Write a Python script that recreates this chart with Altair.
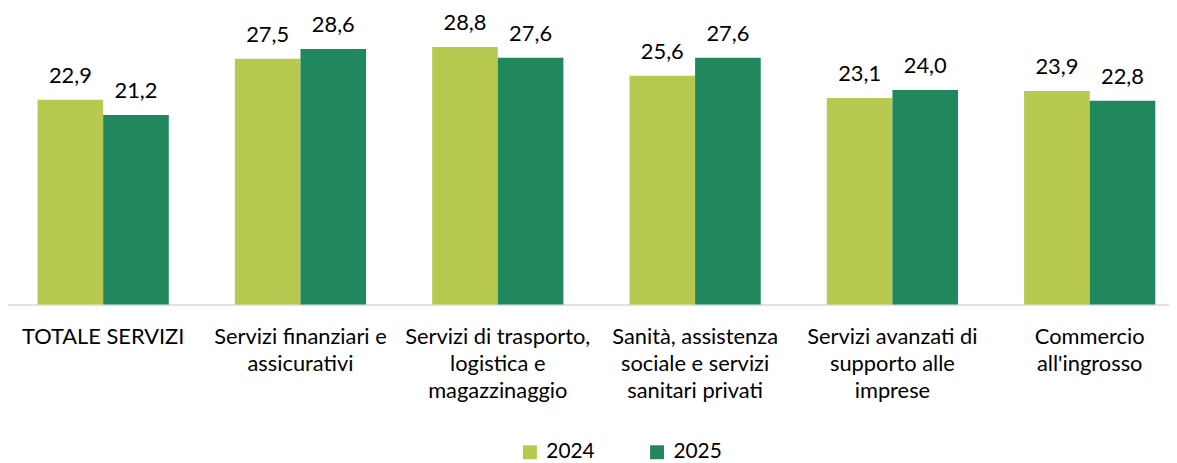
import altair as alt
import pandas as pd

categories = [
    "TOTALE SERVIZI",
    "Servizi finanziari e|assicurativi",
    "Servizi di trasporto,|logistica e|magazzinaggio",
    "Sanità, assistenza|sociale e servizi|sanitari privati",
    "Servizi avanzati di|supporto alle|imprese",
    "Commercio|all'ingrosso",
]
years = ["2024", "2025"]
values_2024 = [22.9, 27.5, 28.8, 25.6, 23.1, 23.9]
values_2025 = [21.2, 28.6, 27.6, 27.6, 24.0, 22.8]
colors = ["#B7C94F", "#21875C"]

rows = []
for c, a, b in zip(categories, values_2024, values_2025):
    rows.append({"category": c, "year": years[0], "value": a})
    rows.append({"category": c, "year": years[1], "value": b})
df = pd.DataFrame(rows)

FONT = "Lato"

base = alt.Chart(df).transform_calculate(
    label="replace(format(datum.value, '.1f'), '.', ',')"
).encode(
    x=alt.X(
        "category:N",
        sort=categories,
        title=None,
        scale=alt.Scale(paddingInner=0.335, paddingOuter=0.17, range=[-4, 1189]),
        axis=alt.Axis(
            labelExpr="split(datum.label, '|')",
            labelAngle=0,
            labelFont=FONT,
            labelFontSize=22,
            labelColor="#000000",
            labelLineHeight=27.5,
            labelPadding=22,
            labelLimit=400,
            ticks=False,
            domainColor="#D9D9D9",
            domainWidth=1.5,
            grid=False,
        ),
    ),
    xOffset=alt.XOffset("year:N", sort=years, scale=alt.Scale(paddingInner=0, paddingOuter=0)),
    y=alt.Y("value:Q", scale=alt.Scale(domain=[0, 30], nice=False), axis=None),
)

bars = base.mark_bar().encode(
    color=alt.Color(
        "year:N",
        sort=years,
        scale=alt.Scale(domain=years, range=colors),
        legend=alt.Legend(
            title=None,
            orient="none",
            legendX=515,
            legendY=408,
            direction="horizontal",
            symbolType="square",
            symbolSize=196,
            symbolStrokeWidth=0,
            labelFont=FONT,
            labelFontSize=21,
            labelColor="#000000",
            labelOffset=6,
            columnPadding=52,
            padding=0,
        ),
    )
)

text = base.mark_text(
    baseline="alphabetic", dy=-17, fontSize=22, font=FONT, color="#000000"
).encode(text="label:N")

chart = alt.layer(bars, text).properties(
    width=1169,
    height=270,
    autosize=alt.AutoSizeParams(type="none"),
    padding={"top": 27, "left": 0, "right": 0, "bottom": 158},
).configure_view(stroke=None)

chart.save("out.html", embed_options={"renderer": "svg", "actions": False})
